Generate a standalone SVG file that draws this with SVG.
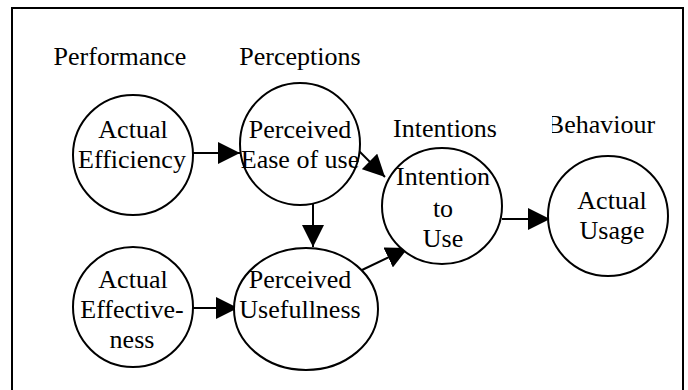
<svg xmlns="http://www.w3.org/2000/svg" width="688" height="390" viewBox="0 0 688 390">
<defs>
<style>
.n{fill:#fff;stroke:#000;stroke-width:2}
.c{stroke:#000;stroke-width:2;fill:none;marker-end:url(#ah)}
</style>
<marker id="ah" markerUnits="userSpaceOnUse" markerWidth="22" markerHeight="22" viewBox="0 0 20 20" refX="20" refY="10" orient="auto">
<path d="M0,0 L20,10 L0,20 Z" fill="#000"/>
</marker>
<clipPath id="bc"><rect x="552" y="100" width="120" height="50"/></clipPath>
</defs>
<rect x="0" y="0" width="688" height="390" fill="#fff"/>
<rect x="12" y="8" width="671" height="400" fill="none" stroke="#000" stroke-width="2"/>
<g id="labels">
<text x="120" y="65" font-family="Liberation Serif" font-size="26" text-anchor="middle">Performance</text>
<text x="300" y="65" font-family="Liberation Serif" font-size="26" text-anchor="middle">Perceptions</text>
<text x="445" y="137" font-family="Liberation Serif" font-size="26" text-anchor="middle">Intentions</text>
<text x="601" y="133" font-family="Liberation Serif" font-size="26" text-anchor="middle" clip-path="url(#bc)">Behaviour</text>
</g>
<g id="connectors">
<line class="c" x1="193" y1="153" x2="240" y2="153"/>
<line class="c" x1="358" y1="150" x2="385" y2="177"/>
<line class="c" x1="313" y1="200" x2="313" y2="247"/>
<line class="c" x1="362" y1="270" x2="408" y2="248"/>
<line class="c" x1="502" y1="219" x2="550" y2="219"/>
<line class="c" x1="193" y1="308" x2="238" y2="308"/>
</g>
<g id="actual-efficiency">
<circle class="n" cx="133" cy="155" r="60"/>
<text x="133" y="138" font-family="Liberation Serif" font-size="26" text-anchor="middle">Actual</text>
<text x="132" y="168" font-family="Liberation Serif" font-size="26" text-anchor="middle">Efficiency</text>
</g>
<g id="perceived-ease">
<ellipse class="n" cx="300" cy="144" rx="60" ry="61"/>
<text x="300" y="138" font-family="Liberation Serif" font-size="26" text-anchor="middle">Perceived</text>
<text x="300" y="168" font-family="Liberation Serif" font-size="26" text-anchor="middle">Ease of use</text>
</g>
<g id="intention-to-use">
<ellipse class="n" cx="442" cy="206" rx="60" ry="58"/>
<text x="443" y="185" font-family="Liberation Serif" font-size="26" text-anchor="middle">Intention</text>
<text x="443" y="217" font-family="Liberation Serif" font-size="26" text-anchor="middle">to</text>
<text x="443" y="247" font-family="Liberation Serif" font-size="26" text-anchor="middle">Use</text>
</g>
<g id="actual-usage">
<circle class="n" cx="608" cy="216" r="60"/>
<text x="612" y="209" font-family="Liberation Serif" font-size="26" text-anchor="middle">Actual</text>
<text x="612" y="239" font-family="Liberation Serif" font-size="26" text-anchor="middle">Usage</text>
</g>
<g id="actual-effectiveness">
<circle class="n" cx="133" cy="307" r="60"/>
<text x="133" y="288" font-family="Liberation Serif" font-size="26" text-anchor="middle">Actual</text>
<text x="132" y="318" font-family="Liberation Serif" font-size="26" text-anchor="middle">Effective-</text>
<text x="132" y="348" font-family="Liberation Serif" font-size="26" text-anchor="middle">ness</text>
</g>
<g id="perceived-usefullness">
<ellipse class="n" cx="306" cy="309" rx="72" ry="61"/>
<text x="300" y="288" font-family="Liberation Serif" font-size="26" text-anchor="middle">Perceived</text>
<text x="300" y="318" font-family="Liberation Serif" font-size="26" text-anchor="middle">Usefullness</text>
</g>
</svg>
